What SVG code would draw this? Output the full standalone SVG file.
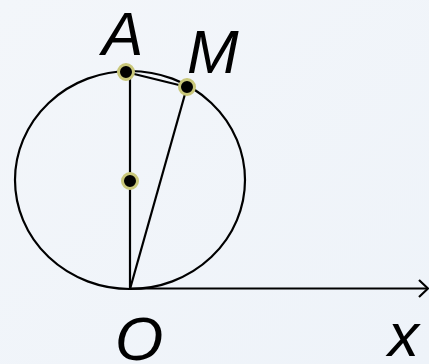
<svg xmlns="http://www.w3.org/2000/svg" width="429" height="364" viewBox="0 0 429 364">
<defs>
<style>
.ln{stroke:#000;stroke-width:2.2;fill:none}
.pt{fill:#000;stroke:#c9c77a;stroke-width:3}
.lb{font-family:"Liberation Sans",Arial,sans-serif;font-style:italic;font-size:62px;fill:#000}
</style>
<linearGradient id="bg" x1="0" y1="0" x2="1" y2="1">
<stop offset="0" stop-color="#f3f6fa"/>
<stop offset="1" stop-color="#eef3f9"/>
</linearGradient>
</defs>
<rect width="429" height="364" fill="url(#bg)"/>
<g id="connectors">
<ellipse class="ln" cx="130" cy="180" rx="115" ry="109"/>
<line class="ln" x1="130" y1="72" x2="130" y2="289"/>
<line class="ln" x1="130" y1="289" x2="187" y2="87"/>
<line class="ln" x1="126" y1="72" x2="187" y2="87"/>
<line class="ln" x1="130" y1="288.5" x2="428" y2="288.5"/>
<polyline class="ln" points="419,280 428,288.5 419,297"/>
</g>
<g id="A"><circle class="pt" cx="126" cy="72" r="7.5"/><text class="lb" x="102" y="55">A</text></g>
<g id="M"><circle class="pt" cx="187" cy="87" r="7.5"/><text class="lb" x="187" y="73">M</text></g>
<g id="center"><circle class="pt" cx="130" cy="181" r="7.5"/></g>
<g id="O"><text class="lb" x="115" y="360">O</text></g>
<g id="x"><text class="lb" x="388" y="356">x</text></g>
</svg>
